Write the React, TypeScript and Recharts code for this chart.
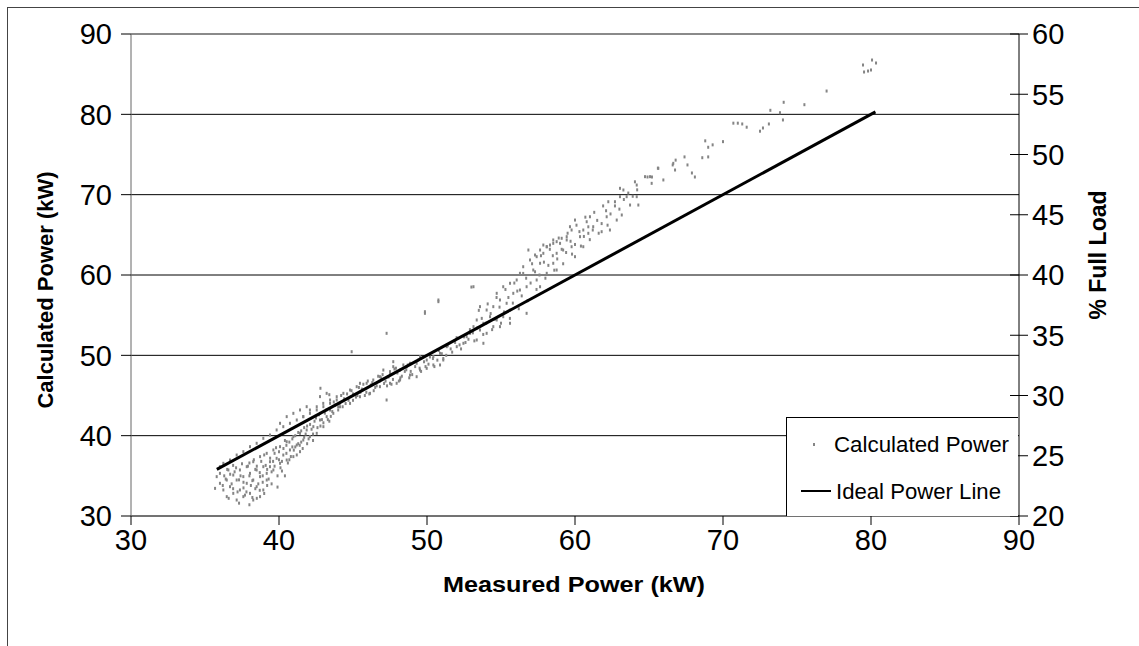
import React from 'react';
import { ComposedChart, Scatter, XAxis, YAxis, CartesianGrid, ReferenceLine, Legend } from 'recharts';

const FONT = '"Liberation Sans", Arial, Helvetica, sans-serif';

const xTicks = [30, 40, 50, 60, 70, 80, 90];
const kwTicks = [30, 40, 50, 60, 70, 80, 90];
const pctTicks = [20, 25, 30, 35, 40, 45, 50, 55, 60];

const idealX = [35.8, 80.3];
const idealY = [35.8, 80.3];

// Measured power (kW) of each scatter point
const measuredKW = [
  // 36-44 kW
  43.9, 43.45, 43.0, 42.55, 42.09, 41.64, 41.2, 40.74, 40.29, 39.84, 39.39, 38.94, 38.49, 38.04, 37.59, 37.14, 36.69, 36.24,
  42.77, 43.22, 41.87, 41.42, 40.97, 40.52, 40.07, 43.67, 43.22, 42.77, 42.32, 41.87, 41.42, 40.97, 40.52, 40.07, 39.62, 39.17,
  38.72, 38.26, 37.82, 37.36, 36.91, 36.47, 36.01, 35.79, 36.01, 36.69, 37.14, 37.59, 38.04, 38.49, 38.94, 39.39, 39.84, 40.29,
  40.74, 41.2, 41.64, 42.09, 42.55, 43.0, 37.82, 38.26, 38.72, 39.17, 39.62, 37.36, 37.59, 38.04, 38.49, 38.94, 36.91, 37.14,
  36.47, 36.24, 40.07, 40.52, 40.97, 41.42, 39.17, 38.26, 38.72, 36.01, 36.58, 35.68, 39.39, 36.6, 37.3, 38.0, 38.5, 42.8, 43.4,
  36.3, 36.8, 37.0, 37.3, 37.6, 37.9, 38.1, 38.3, 38.6, 38.8, 39.0, 39.2, 39.5, 39.7, 39.9, 40.1, 40.3, 40.5, 40.7, 40.9,
  41.1, 41.3, 41.5, 41.7, 41.9, 42.2, 42.4, 42.7, 42.9, 43.2, 43.5, 43.8, 44.1, 44.4, 44.7,
  36.2, 36.5, 36.9, 37.2, 37.5, 37.7, 38.0, 38.2, 38.4, 38.7, 38.9, 39.1, 39.3, 39.6, 39.8, 40.0, 40.2, 40.4, 40.6, 40.8,
  41.0, 41.2, 41.4, 41.6, 41.8, 42.0, 42.3, 42.6, 43.0, 43.3, 43.6, 44.0, 44.3, 44.6,
  36.4, 36.7, 36.9, 37.1, 37.4, 37.6, 37.8, 38.0, 38.2, 38.4, 38.5, 38.7, 38.9, 39.0, 39.2, 39.4, 39.5, 39.7, 39.9, 40.0,
  40.2, 40.4, 40.5, 40.7, 40.9, 41.1, 41.3, 41.5, 41.7, 41.9, 42.1, 42.3, 42.5, 42.8, 43.1, 43.4, 43.7, 44.0, 44.2, 44.5,
  // 41-53 kW
  51.33, 50.88, 50.43, 49.98, 49.53, 49.3, 48.85, 48.63, 48.18, 47.72, 47.5, 47.05, 46.82, 46.37, 45.92, 45.47, 45.25, 44.8,
  44.35, 43.9, 43.45, 42.99, 42.55, 42.09, 41.64, 42.77, 43.45, 44.12, 44.8, 45.47, 46.15, 46.82, 47.5, 48.18, 48.85, 49.53,
  50.43, 51.1, 50.88, 49.98, 49.3, 47.95, 47.27, 47.72, 44.91, 47.27, 49.86, 50.77,
  45.0, 45.3, 45.6, 45.9, 46.2, 46.5, 46.8, 47.1, 47.4, 47.7, 48.0, 48.3, 48.6, 48.9, 49.2, 49.5, 49.8, 50.1, 50.4, 50.7,
  51.0, 51.3, 51.6, 51.9, 52.2, 52.5, 52.8, 53.1, 53.4,
  45.0, 45.4, 45.8, 46.0, 46.4, 46.7, 47.0, 47.3, 47.8, 48.1, 48.4, 48.8,
  44.9, 45.2, 45.5, 45.7, 46.1, 46.3, 46.6, 46.9, 47.2, 47.5, 47.6, 47.9, 48.2, 48.5, 48.7, 49.0, 49.4, 49.6, 49.9, 50.2,
  50.5, 50.8, 51.1, 51.4, 51.7, 52.0, 52.3, 52.6, 52.9, 53.2,
  // 50-60 kW
  59.44, 58.99, 58.53, 58.09, 57.86, 57.41, 56.96, 57.64, 58.53, 58.76, 58.09, 57.18, 56.5, 56.28, 56.06, 55.61, 55.83, 56.28,
  56.73, 57.41, 57.64, 55.15, 54.71, 54.93, 55.38, 55.61, 54.48, 54.03, 53.58, 54.26, 54.71, 55.15, 55.61, 53.81, 53.36, 53.14,
  53.58, 54.03, 52.91, 52.68, 53.36, 52.46, 52.01, 53.81, 54.48, 54.93, 53.14, 53.0, 50.77, 49.86, 56.73,
  53.7, 54.0, 54.3, 54.6, 54.9, 55.2, 55.5, 55.8, 56.1, 56.4, 56.7, 57.0, 57.3, 57.6, 57.9, 58.2, 58.5, 58.8, 59.1, 59.4,
  53.5, 53.8, 54.1, 54.4, 54.7, 55.0, 55.3, 55.6, 55.9, 56.2, 56.5, 56.8, 57.1, 57.4, 57.7, 58.0, 58.3, 58.6, 58.9, 59.2,
  // 56-67 kW
  66.64, 66.76, 65.63, 65.97, 65.07, 65.18, 64.73, 64.17, 64.05, 63.27, 63.04, 63.49, 64.17, 63.72, 64.28, 62.7, 63.04, 62.25,
  62.14, 62.82, 63.16, 62.36, 61.8, 61.01, 60.79, 61.23, 60.56, 60.9, 60.34, 60.0, 59.66, 59.77, 59.44, 59.1, 58.76, 58.53,
  58.31, 58.09, 57.86, 57.64, 57.3, 56.85, 59.77, 59.2, 58.76, 60.0, 60.56,
  59.7, 60.0, 60.3, 60.6, 60.9, 61.2, 61.5, 61.8, 62.1, 62.4, 62.7, 63.0, 63.3, 63.6, 63.9, 64.2,
  59.5, 59.8, 60.1, 60.4, 60.7, 61.0, 61.3, 61.6, 61.9, 62.2,
  // 65-81 kW
  79.46, 80.07, 80.34, 79.53, 79.8, 80.0, 77.0, 74.1, 75.5, 73.2, 73.85, 74.05, 70.7, 71.0, 71.3, 71.6, 72.5, 72.7, 73.1,
  68.8, 69.0, 69.3, 70.0, 68.6, 69.0, 66.8, 67.4, 67.6, 66.6, 67.9, 68.1, 64.9, 65.6, 65.2,
];

// Calculated power (kW) of each scatter point, same order
const calculatedKW = [
  // 36-44 kW
  44.44, 44.03, 43.61, 43.2, 42.78, 42.37, 41.95, 41.54, 41.12, 40.71, 40.08, 39.67, 39.05, 38.63, 38.01, 37.59, 36.97, 36.56,
  44.86, 45.27, 43.61, 43.2, 42.78, 42.37, 41.54, 42.78, 42.37, 41.95, 41.12, 40.71, 40.29, 39.88, 39.25, 38.63, 38.22, 37.8,
  37.39, 36.76, 36.14, 35.73, 35.1, 34.48, 34.07, 34.9, 36.14, 33.65, 34.48, 34.9, 35.31, 35.73, 36.14, 36.76, 37.18, 37.59,
  38.22, 38.84, 39.46, 39.88, 40.29, 41.12, 34.07, 34.48, 34.9, 35.31, 35.73, 33.24, 32.41, 32.82, 33.65, 33.24, 32.82, 31.99,
  32.41, 33.24, 36.56, 36.97, 37.39, 38.01, 34.48, 31.99, 32.41, 35.31, 35.73, 33.44, 36.14, 32.2, 31.6, 31.4, 32.2, 45.9, 45.1,
  35.0, 34.0, 35.5, 34.5, 33.5, 36.2, 33.8, 37.0, 34.0, 36.8, 37.6, 33.8, 35.5, 37.8, 35.0, 36.0, 38.4, 37.8, 39.2, 38.6,
  40.0, 39.0, 40.6, 39.8, 41.2, 40.8, 41.8, 42.6, 42.0, 43.2, 42.4, 43.8, 44.0, 44.6, 44.4,
  33.8, 35.8, 36.3, 33.0, 36.5, 32.6, 35.0, 32.3, 35.8, 33.2, 35.0, 36.3, 34.6, 36.8, 38.5, 37.0, 35.6, 39.4, 36.6, 37.4,
  38.2, 37.6, 38.8, 38.4, 40.2, 39.6, 40.2, 41.0, 41.6, 42.0, 43.0, 43.2, 43.6, 45.2,
  34.6, 35.2, 33.4, 36.0, 35.0, 34.2, 33.0, 36.6, 34.4, 33.4, 36.2, 35.4, 34.2, 32.8, 35.8, 37.2, 34.0, 36.2, 33.6, 38.0,
  36.8, 35.0, 38.8, 37.0, 39.6, 38.6, 40.4, 39.2, 41.0, 39.0, 41.4, 39.4, 42.2, 41.2, 42.8, 41.8, 44.2, 43.6, 45.0, 44.0,
  // 41-53 kW
  51.08, 50.25, 49.84, 49.42, 49.84, 49.01, 49.01, 48.59, 48.17, 48.59, 47.97, 48.17, 47.34, 46.93, 46.52, 46.52, 46.1, 45.68,
  45.27, 44.85, 44.44, 44.02, 43.6, 43.19, 42.36, 42.77, 43.19, 43.6, 44.02, 44.85, 45.27, 46.1, 46.52, 46.93, 47.55, 48.17,
  48.8, 49.42, 48.8, 48.38, 47.34, 46.52, 44.44, 49.21, 50.45, 52.74, 55.23, 56.68,
  45.2, 45.0, 45.8, 45.4, 46.3, 46.0, 46.8, 46.5, 47.3, 47.0, 47.8, 47.4, 48.2, 48.0, 48.6, 48.4, 49.2, 48.9, 49.6, 49.4,
  50.2, 50.0, 50.8, 51.6, 51.3, 52.3, 52.0, 52.8, 53.4,
  44.4, 46.0, 45.0, 46.8, 45.6, 47.4, 47.6, 46.2, 48.3, 46.8, 48.8, 47.2,
  45.6, 44.8, 45.4, 46.4, 45.2, 46.6, 46.2, 47.2, 46.8, 47.8, 46.4, 48.4, 47.2, 48.0, 48.8, 47.6, 49.4, 48.0, 48.6, 49.8,
  48.6, 50.6, 49.6, 51.2, 50.4, 52.2, 50.8, 51.6, 53.2, 51.8,
  // 50-60 kW
  64.77, 63.94, 64.36, 63.52, 62.7, 62.28, 61.87, 61.46, 61.46, 60.62, 60.21, 60.62, 61.03, 60.21, 59.38, 58.97, 57.72, 58.13,
  58.54, 59.38, 58.54, 58.54, 57.72, 56.89, 56.48, 55.64, 56.06, 55.64, 56.06, 54.81, 54.4, 54.81, 53.99, 53.99, 54.4, 53.57,
  53.15, 52.74, 52.74, 52.32, 51.91, 51.5, 51.08, 51.5, 53.57, 53.57, 58.54, 58.5, 56.89, 55.43, 55.23,
  54.6, 54.0, 55.2, 54.5, 56.0, 55.4, 57.2, 56.5, 58.0, 57.4, 59.6, 59.0, 60.4, 60.0, 61.6, 61.2, 62.4, 62.0, 63.2, 62.8,
  55.6, 52.6, 56.4, 53.2, 57.2, 54.0, 58.2, 54.6, 59.0, 55.8, 60.2, 56.8, 61.4, 58.2, 62.4, 59.6, 63.2, 60.6, 64.6, 61.4,
  // 56-67 kW
  73.9, 73.07, 73.28, 71.83, 72.24, 71.41, 72.24, 71.2, 71.6, 70.58, 70.79, 69.75, 69.75, 68.71, 68.71, 69.12, 69.75, 69.12,
  67.25, 66.84, 67.47, 65.6, 65.39, 67.25, 66.63, 66.01, 65.6, 65.19, 64.77, 66.84, 66.01, 65.6, 64.36, 64.57, 64.15, 63.94,
  63.73, 63.52, 63.73, 63.11, 62.49, 63.11, 63.52, 63.11, 62.7, 62.28, 63.52,
  64.2, 63.8, 65.4, 64.8, 66.0, 65.6, 66.8, 66.4, 68.0, 67.6, 68.6, 68.2, 69.4, 70.2, 69.8, 70.6,
  65.2, 62.6, 66.2, 63.6, 67.2, 64.4, 67.8, 65.2, 68.6, 66.2,
  // 65-81 kW
  86.14, 86.76, 86.39, 85.27, 85.39, 85.52, 82.9, 81.5, 81.2, 80.5, 80.2, 79.3, 78.9, 78.9, 78.8, 78.4, 77.9, 78.3, 78.8,
  76.7, 75.9, 76.2, 76.6, 74.6, 74.7, 74.3, 74.7, 73.7, 73.7, 72.7, 72.2, 72.2, 73.3, 72.2,
];

const scatterData = measuredKW.map((x, i) => ({ x, y: calculatedKW[i] }));
const idealData = idealX.map((x, i) => ({ x, y: idealY[i] }));

const TICK_SIZE = 29;

const Dot = (props: any) => {
  const { cx, cy } = props;
  if (cx == null || cy == null) return <g />;
  return <rect x={cx - 1} y={cy - 1.5} width={2} height={3} fill="#858585" />;
};

const NoShape = () => <g />;

const PctTick = (props: any) => {
  const { x, y, payload } = props;
  const ax = x - 13;
  return (
    <g>
      <line x1={ax - 9} x2={ax + 9} y1={y} y2={y} stroke="#000" strokeWidth={1} />
      <text x={x} y={y} dy="0.36em" textAnchor="start" fontFamily={FONT} fontSize={TICK_SIZE} fill="#000">
        {payload.value}
      </text>
    </g>
  );
};

const LegendBox = () => (
  <div
    style={{
      width: 232,
      height: 99,
      boxSizing: 'border-box',
      border: '1px solid #000',
      borderRight: 'none',
      borderBottom: 'none',
      background: '#fff',
      position: 'relative',
    }}
  >
    <svg width={232} height={99} style={{ position: 'absolute', left: 0, top: 0 }}>
      <rect x={26} y={25} width={2} height={3} fill="#858585" />
      <text x={47} y={26} dy="0.36em" fontFamily={FONT} fontSize={22} fill="#000" textLength={175} lengthAdjust="spacingAndGlyphs">Calculated Power</text>
      <line x1={14} x2={44} y1={73} y2={73} stroke="#000" strokeWidth={2} />
      <text x={49} y={73} dy="0.36em" fontFamily={FONT} fontSize={22} fill="#000" textLength={165} lengthAdjust="spacingAndGlyphs">Ideal Power Line</text>
    </svg>
  </div>
);

const LeftTitle = (props: any) => {
  const { viewBox } = props;
  const cx = viewBox.x - 26;
  const cy = 290;
  return (
    <text x={cx} y={cy} transform={`rotate(-90, ${cx}, ${cy})`} textAnchor="middle" dy="0.36em" fontFamily={FONT} fontSize={22} fontWeight="bold" fill="#000">
      Calculated Power (kW)
    </text>
  );
};

const RightTitle = (props: any) => {
  const { viewBox } = props;
  const cx = viewBox.x + viewBox.width + 19;
  const cy = 255;
  return (
    <text x={cx} y={cy} transform={`rotate(-90, ${cx}, ${cy})`} textAnchor="middle" dy="0.36em" fontFamily={FONT} fontSize={23} fontWeight="bold" fill="#000">
      % Full Load
    </text>
  );
};

const BottomTitle = () => {
  const cx = 574;
  const cy = 584;
  return (
    <text x={cx} y={cy} textAnchor="middle" dy="0.36em" fontFamily={FONT} fontSize={22} fontWeight="bold" fill="#000" textLength={262} lengthAdjust="spacingAndGlyphs">
      Measured Power (kW)
    </text>
  );
};

export default function App() {
  return (
    <div style={{ position: 'absolute', left: 0, top: 0, width: 1139, height: 646, background: '#fff', overflow: 'hidden' }}>
      <div style={{ position: 'absolute', left: 7, top: 7, width: 1200, height: 700, border: '1px solid #444' }} />
      <div style={{ position: 'absolute', left: 0, top: 0 }}>
        <ComposedChart width={1139} height={646} margin={{ top: 34, right: 60, left: 71, bottom: 80 }}>
          <CartesianGrid yAxisId="kw" vertical={false} stroke="#000" strokeWidth={1} />
          <XAxis
            type="number"
            dataKey="x"
            domain={[30, 90]}
            ticks={xTicks}
            interval={0}
            height={50}
            tickSize={9}
            tickMargin={4}
            stroke="#666"
            tickLine={{ stroke: '#000' }}
            tick={{ fontFamily: FONT, fontSize: TICK_SIZE, fill: '#000' }}
            allowDataOverflow
            label={<BottomTitle />}
          />
          <YAxis
            yAxisId="kw"
            type="number"
            dataKey="y"
            domain={[30, 90]}
            ticks={kwTicks}
            interval={0}
            width={60}
            tickSize={10}
            tickMargin={9}
            stroke="#666"
            tickLine={{ stroke: '#000' }}
            tick={{ fontFamily: FONT, fontSize: TICK_SIZE, fill: '#000' }}
            allowDataOverflow
            label={<LeftTitle />}
          />
          <YAxis
            yAxisId="pct"
            orientation="right"
            type="number"
            domain={[20, 60]}
            ticks={pctTicks}
            interval={0}
            width={60}
            tickSize={0}
            tickMargin={13}
            tickLine={false}
            axisLine={{ stroke: '#000' }}
            tick={<PctTick />}
            allowDataOverflow
            label={<RightTitle />}
          />
          <ReferenceLine yAxisId="kw" y={90} stroke="#8a8a8a" strokeWidth={2} />
          <Scatter
            name="Calculated Power"
            yAxisId="kw"
            data={scatterData}
            shape={<Dot />}
            isAnimationActive={false}
          />
          <Scatter
            name="Ideal Power Line"
            yAxisId="kw"
            data={idealData}
            line={{ stroke: '#000', strokeWidth: 3 }}
            lineType="joint"
            shape={<NoShape />}
            isAnimationActive={false}
          />
          <Legend
            layout="vertical"
            align="center"
            verticalAlign="middle"
            content={<LegendBox />}
            wrapperStyle={{ left: 786, top: 417, width: 232, height: 99 }}
          />
        </ComposedChart>
      </div>
    </div>
  );
}
